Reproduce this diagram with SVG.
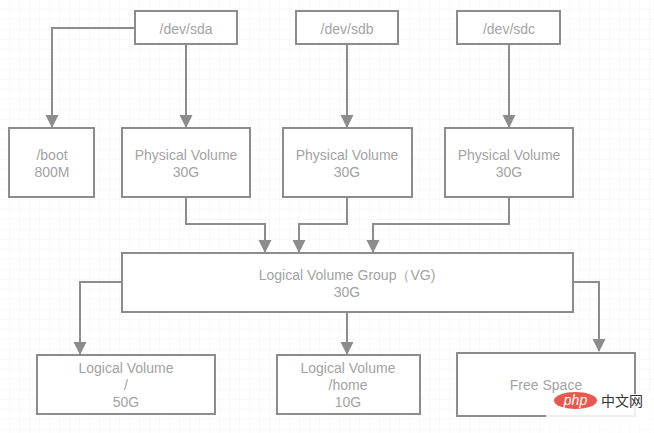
<svg xmlns="http://www.w3.org/2000/svg" width="654" height="433" viewBox="0 0 654 433">
<defs>
<pattern id="grid" width="10" height="10" patternUnits="userSpaceOnUse">
<path d="M10 0V10M0 10H10" fill="none" stroke="#f3f3f3" stroke-width="1"/>
</pattern>
<marker id="ah" markerWidth="14" markerHeight="14" refX="12" refY="6.5" orient="auto" markerUnits="userSpaceOnUse">
<path d="M0,0 L13,6.5 L0,13 Z" fill="#8c8c8c"/>
</marker>
<style>
.box{fill:#fff;stroke:#8c8c8c;stroke-width:2}
.t{font-family:"Liberation Sans",Arial,sans-serif;font-size:14px;fill:#a3a3a3;text-anchor:middle}
.c{fill:none;stroke:#8c8c8c;stroke-width:2;marker-end:url(#ah)}
</style>
</defs>
<rect width="654" height="433" fill="#fff"/>
<rect width="654" height="433" fill="url(#grid)"/>
<g id="connectors">
<path class="c" d="M135 28H52V127"/>
<path class="c" d="M186 44V127"/>
<path class="c" d="M347 44V127"/>
<path class="c" d="M509 44V127"/>
<path class="c" d="M186 197V224H265V252"/>
<path class="c" d="M347 197V224H299V252"/>
<path class="c" d="M509 197V224H373V252"/>
<path class="c" d="M122 282H80V354"/>
<path class="c" d="M347 312V354"/>
<path class="c" d="M573 282H599V351"/>
</g>
<g id="sda"><rect class="box" x="135" y="11" width="102" height="33"/><text class="t" x="186" y="34">/dev/sda</text></g>
<g id="sdb"><rect class="box" x="296" y="11" width="102" height="33"/><text class="t" x="347" y="34">/dev/sdb</text></g>
<g id="sdc"><rect class="box" x="457" y="11" width="103" height="33"/><text class="t" x="509" y="34">/dev/sdc</text></g>
<g id="boot"><rect class="box" x="9" y="128" width="85" height="69"/><text class="t" x="52" y="160">/boot</text><text class="t" x="52" y="177">800M</text></g>
<g id="pv1"><rect class="box" x="122" y="128" width="128" height="69"/><text class="t" x="186" y="160">Physical Volume</text><text class="t" x="186" y="177">30G</text></g>
<g id="pv2"><rect class="box" x="283" y="128" width="129" height="69"/><text class="t" x="347" y="160">Physical Volume</text><text class="t" x="347" y="177">30G</text></g>
<g id="pv3"><rect class="box" x="445" y="128" width="128" height="69"/><text class="t" x="509" y="160">Physical Volume</text><text class="t" x="509" y="177">30G</text></g>
<g id="vg"><rect class="box" x="122" y="253" width="451" height="59"/><text class="t" x="347" y="280">Logical Volume Group（VG)</text><text class="t" x="347" y="297">30G</text></g>
<g id="lv1"><rect class="box" x="37" y="355" width="178" height="59"/><text class="t" x="126" y="373">Logical Volume</text><text class="t" x="126" y="390">/</text><text class="t" x="126" y="407">50G</text></g>
<g id="lv2"><rect class="box" x="277" y="355" width="143" height="59"/><text class="t" x="348" y="373">Logical Volume</text><text class="t" x="348" y="390">/home</text><text class="t" x="348" y="407">10G</text></g>
<g id="free"><rect class="box" x="457" y="353" width="178" height="63"/><text class="t" x="546" y="390">Free Space</text></g>
<g id="watermark">
<rect x="546" y="394" width="104" height="31" fill="#fff" opacity="0.85"/>
<ellipse cx="575.5" cy="400.5" rx="21.5" ry="8.5" fill="#e8584f"/>
<text x="575.5" y="405" font-family="'Liberation Sans',sans-serif" font-size="14" font-style="italic" fill="#fff" text-anchor="middle">php</text>
<text x="601" y="406" font-family="'Noto Sans CJK SC',sans-serif" font-size="14" fill="#333">中文网</text>
</g>
</svg>
